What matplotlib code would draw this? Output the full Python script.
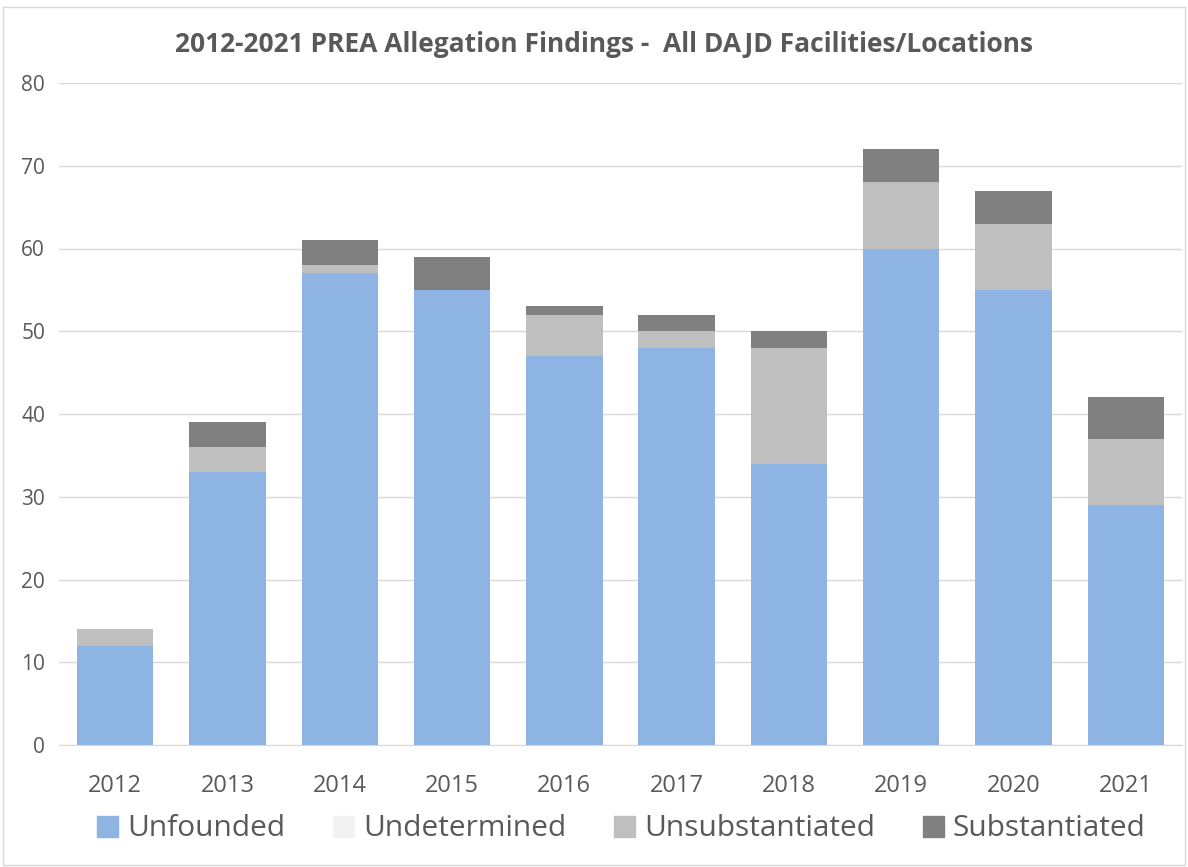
import matplotlib
matplotlib.use("Agg")
import matplotlib.pyplot as plt
from matplotlib.patches import Rectangle
import numpy as np

years = ["2012", "2013", "2014", "2015", "2016", "2017", "2018", "2019", "2020", "2021"]
unfounded = [12, 33, 57, 55, 47, 48, 34, 60, 55, 29]
undetermined = [0, 0, 0, 0, 0, 0, 0, 0, 0, 0]
unsubstantiated = [2, 3, 1, 0, 5, 2, 14, 8, 8, 8]
substantiated = [0, 3, 3, 4, 1, 2, 2, 4, 4, 5]
series_names = ["Unfounded", "Undetermined", "Unsubstantiated", "Substantiated"]
colors = ["#8EB4E3", "#F2F2F2", "#BFBFBF", "#808080"]
title = "2012-2021 PREA Allegation Findings -  All DAJD Facilities/Locations"

plt.rcParams['font.family'] = ['Open Sans', 'DejaVu Sans']

fig = plt.figure(figsize=(11.88, 8.67), dpi=100)
ax = fig.add_axes([59/1188, 1 - 745/867, (1182-59)/1188, (745-83)/867])

x = np.arange(len(years))
bottom = np.zeros(len(years))
for name, vals, c in zip(series_names, [unfounded, undetermined, unsubstantiated, substantiated], colors):
    vals = np.array(vals, dtype=float)
    ax.bar(x, vals, bottom=bottom, width=0.68, color=c, label=name, zorder=3)
    bottom += vals

ax.set_ylim(0, 80)
ax.set_xlim(-0.5, len(years) - 0.5)
ax.set_yticks(range(0, 81, 10))
ax.set_xticks(x)
ax.set_xticklabels(years)
ax.grid(axis='y', color='#D9D9D9', linewidth=1, zorder=0)
for s in ['top', 'right', 'left']:
    ax.spines[s].set_visible(False)
ax.spines['bottom'].set_color('#D9D9D9')
ax.tick_params(axis='both', length=0, colors='#595959', labelsize=17)
ax.tick_params(axis='y', pad=10, labelsize=15)
ax.tick_params(axis='x', pad=21)

fig.text(0.508, 1 - 45/867, title, ha='center', va='center', fontsize=19, fontweight='bold', color='#595959')

handles = [Rectangle((0, 0), 1, 1, color=c) for c in colors]
fig.legend(handles, series_names, loc='center', bbox_to_anchor=(0.523, 1 - 829/867), ncol=4,
           frameon=False, fontsize=21.5, labelcolor='#595959', handlelength=0.7, handleheight=0.7,
           handletextpad=0.3, columnspacing=1.6)

border = Rectangle((3/1188, 2/867), 1 - 6/1188, 1 - 9/867, transform=fig.transFigure,
                   fill=False, edgecolor='#D9D9D9', linewidth=1)
fig.patches.append(border)

fig.savefig("out.png", dpi=100, facecolor='white')
